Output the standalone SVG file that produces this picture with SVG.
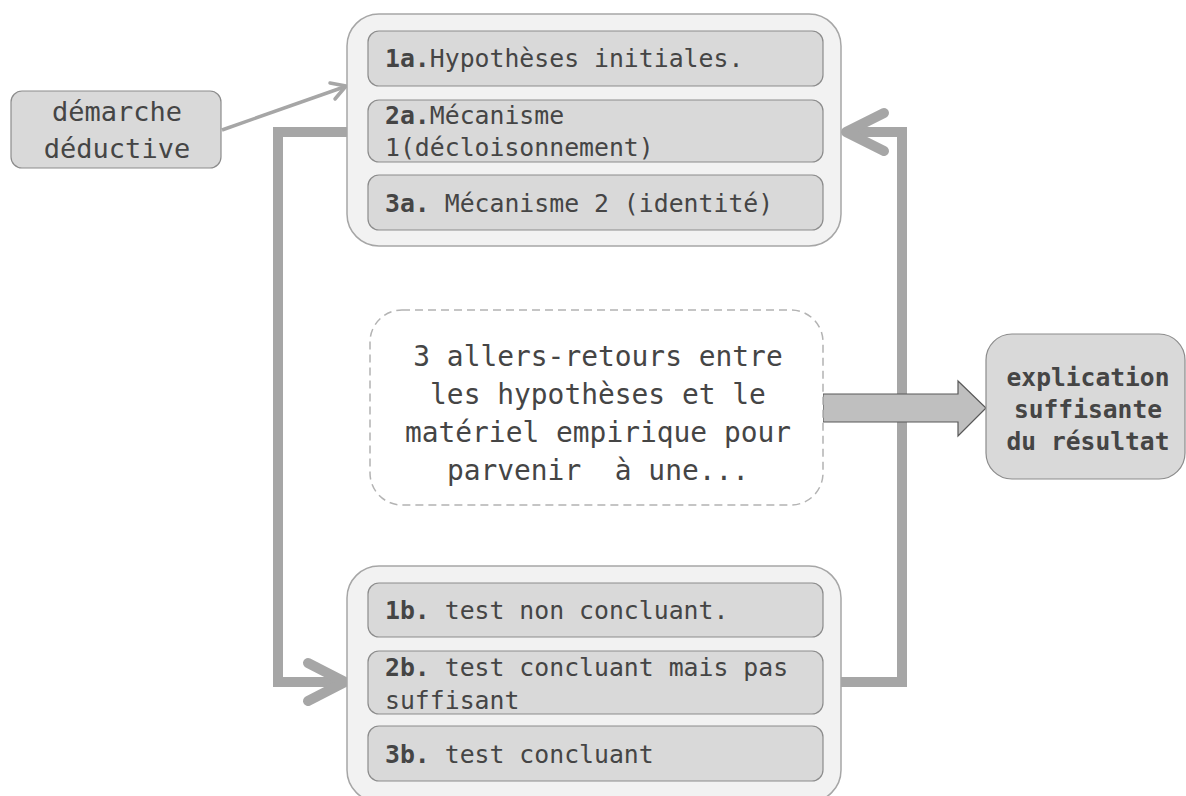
<svg xmlns="http://www.w3.org/2000/svg" width="1186" height="796" viewBox="0 0 1186 796">
<defs>
<style>
.container{fill:#f2f2f2;stroke:#a6a6a6;stroke-width:1.5}
.item{fill:#d9d9d9;stroke:#8c8c8c;stroke-width:1.2}
.t{font-family:"DejaVu Sans Mono","Liberation Mono",monospace;fill:#454545}
.it{font-size:24.8px}
.b{font-weight:bold}
.loop{fill:none;stroke:#a6a6a6;stroke-width:10;stroke-linejoin:miter}
.chev{fill:none;stroke:#a6a6a6;stroke-width:10;stroke-linecap:round;stroke-linejoin:round}
</style>
</defs>
<rect width="1186" height="796" fill="#ffffff"/>

<g id="connectors">
<line x1="222" y1="130" x2="344" y2="87" stroke="#a6a6a6" stroke-width="3.5"/>
<path d="M330,83 L346,86 L335,99" fill="none" stroke="#a6a6a6" stroke-width="3.5" stroke-linecap="round" stroke-linejoin="round"/>
<path class="loop" d="M347,132 H278 V682 H342"/>
<path class="chev" d="M308,663 L345,682 L308,701"/>
<path class="loop" d="M841,682 H902 V132 H848"/>
<path class="chev" d="M884,113 L846,132 L884,151"/>
<path d="M823,394 H958 V381 L986,408 L958,436 V422 H823 Z" fill="#bfbfbf" stroke="#595959" stroke-width="1.2"/>
</g>

<g id="demarche">
<rect x="11" y="91" width="210" height="77" rx="11" class="item"/>
<text class="t" font-size="27" text-anchor="middle" x="117" y="121">démarche</text>
<text class="t" font-size="27" text-anchor="middle" x="117" y="158">déductive</text>
</g>

<g id="hypotheses">
<rect x="347" y="14" width="494" height="232" rx="32" class="container"/>
<g id="h1a">
<rect x="368" y="31" width="455" height="55" rx="11" class="item"/>
<text class="t it" x="385" y="67"><tspan class="b">1a.</tspan>Hypothèses initiales.</text>
</g>
<g id="h2a">
<rect x="368" y="100" width="455" height="62" rx="11" class="item"/>
<text class="t it" x="385" y="124"><tspan class="b">2a.</tspan>Mécanisme</text>
<text class="t it" x="385" y="156">1(décloisonnement)</text>
</g>
<g id="h3a">
<rect x="368" y="175" width="455" height="55" rx="11" class="item"/>
<text class="t it" x="385" y="212"><tspan class="b">3a.</tspan> Mécanisme 2 (identité)</text>
</g>
</g>

<g id="allers-retours">
<rect x="370" y="310" width="453" height="195" rx="32" fill="#ffffff" stroke="#b3b3b3" stroke-width="1.5" stroke-dasharray="8,5"/>
<text class="t" font-size="27.9" text-anchor="middle" x="598" y="366">3 allers-retours entre</text>
<text class="t" font-size="27.9" text-anchor="middle" x="598" y="404">les hypothèses et le</text>
<text class="t" font-size="27.9" text-anchor="middle" x="598" y="442">matériel empirique pour</text>
<text class="t" font-size="27.9" text-anchor="middle" x="598" y="480" xml:space="preserve">parvenir  à une...</text>
</g>

<g id="explication">
<rect x="986" y="334" width="199" height="145" rx="26" class="item"/>
<text class="t b" font-size="24.6" text-anchor="middle" x="1088" y="386">explication</text>
<text class="t b" font-size="24.6" text-anchor="middle" x="1088" y="418">suffisante</text>
<text class="t b" font-size="24.6" text-anchor="middle" x="1088" y="450">du résultat</text>
</g>

<g id="tests">
<rect x="347" y="566" width="494" height="236" rx="32" class="container"/>
<g id="t1b">
<rect x="368" y="583" width="455" height="54" rx="11" class="item"/>
<text class="t it" x="385" y="619"><tspan class="b">1b.</tspan> test non concluant.</text>
</g>
<g id="t2b">
<rect x="368" y="651" width="455" height="63" rx="11" class="item"/>
<text class="t it" x="385" y="676"><tspan class="b">2b.</tspan> test concluant mais pas</text>
<text class="t it" x="385" y="709">suffisant</text>
</g>
<g id="t3b">
<rect x="368" y="726" width="455" height="55" rx="11" class="item"/>
<text class="t it" x="385" y="763"><tspan class="b">3b.</tspan> test concluant</text>
</g>
</g>
</svg>
